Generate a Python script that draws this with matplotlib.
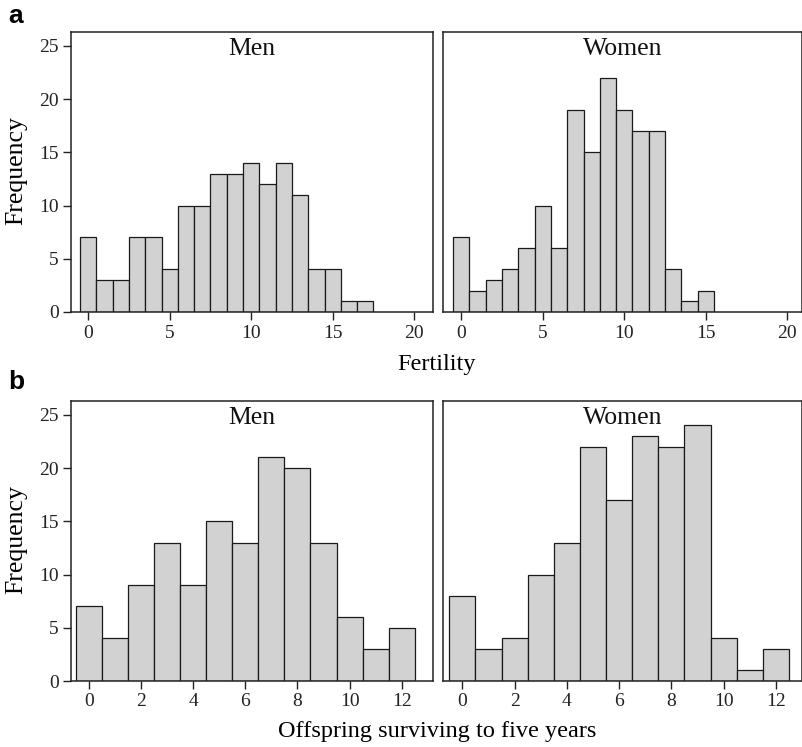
import matplotlib.pyplot as plt

# Fertility (children born), bins of width 1 centred on integers
fert_men_x = list(range(0, 18))
fert_men = [7, 3, 3, 7, 7, 4, 10, 10, 13, 13, 14, 12, 14, 11, 4, 4, 1, 1]
fert_women_x = list(range(0, 16))
fert_women = [7, 2, 3, 4, 6, 10, 6, 19, 15, 22, 19, 17, 17, 4, 1, 2]

# Offspring surviving to five years
surv_x = list(range(0, 13))
surv_men = [7, 4, 9, 13, 9, 15, 13, 21, 20, 13, 6, 3, 5]
surv_women = [8, 3, 4, 10, 13, 22, 17, 23, 22, 24, 4, 1, 3]

plt.rcParams['font.family'] = ['Liberation Serif', 'DejaVu Serif']

W, H = 803, 747
fig = plt.figure(figsize=(W / 100, H / 100), dpi=100)

def box(x0, y0, x1, y1):
    # pixel box (top-left origin) -> figure fraction
    return [x0 / W, 1 - y1 / H, (x1 - x0) / W, (y1 - y0) / H]

BAR = '#d1d2d1'

def panel(rect, xs, ys, title, xlim, xticks, show_y):
    ax = fig.add_axes(rect)
    ax.bar(xs, ys, width=1.0, color=BAR, edgecolor='#1a1a1a', linewidth=0.9)
    ax.set_xlim(*xlim)
    ax.set_ylim(0, 26.3)
    ax.set_xticks(xticks)
    ax.set_yticks([0, 5, 10, 15, 20, 25])
    ax.tick_params(direction='out', length=6, width=1.0, labelsize=14,
                   colors='#222222', pad=3)
    if not show_y:
        ax.tick_params(axis='y', left=False, labelleft=False)
    for s in ax.spines.values():
        s.set_linewidth(1.1)
        s.set_color('#222222')
    ax.text(0.5, 0.94, title, transform=ax.transAxes, ha='center', va='center',
            fontsize=18.5, color='#111111')
    return ax

panel(box(71, 32, 433, 312), fert_men_x, fert_men, 'Men', (-1.05, 21.15),
      [0, 5, 10, 15, 20], True)
panel(box(443, 32, 802, 312), fert_women_x, fert_women, 'Women', (-1.12, 20.9),
      [0, 5, 10, 15, 20], False)
panel(box(71, 401, 433, 681), surv_x, surv_men, 'Men', (-0.68, 13.2),
      [0, 2, 4, 6, 8, 10, 12], True)
panel(box(443, 401, 802, 681), surv_x, surv_women, 'Women', (-0.74, 13.0),
      [0, 2, 4, 6, 8, 10, 12], False)

fig.text(437 / W, 1 - 364 / H, 'Fertility', ha='center', va='center', fontsize=17.5)
fig.text(437 / W, 1 - 731 / H, 'Offspring surviving to five years',
         ha='center', va='center', fontsize=17.5)
fig.text(16 / W, 1 - 171 / H, 'Frequency', ha='center', va='center',
         rotation=90, fontsize=18.5)
fig.text(16 / W, 1 - 540 / H, 'Frequency', ha='center', va='center',
         rotation=90, fontsize=18.5)

fig.text(8 / W, 1 - 16 / H, 'a', ha='left', va='center', fontsize=19,
         fontweight='bold', family=['Liberation Sans', 'DejaVu Sans'])
fig.text(8 / W, 1 - 382 / H, 'b', ha='left', va='center', fontsize=19,
         fontweight='bold', family=['Liberation Sans', 'DejaVu Sans'])

plt.savefig('out.png', dpi=100)
